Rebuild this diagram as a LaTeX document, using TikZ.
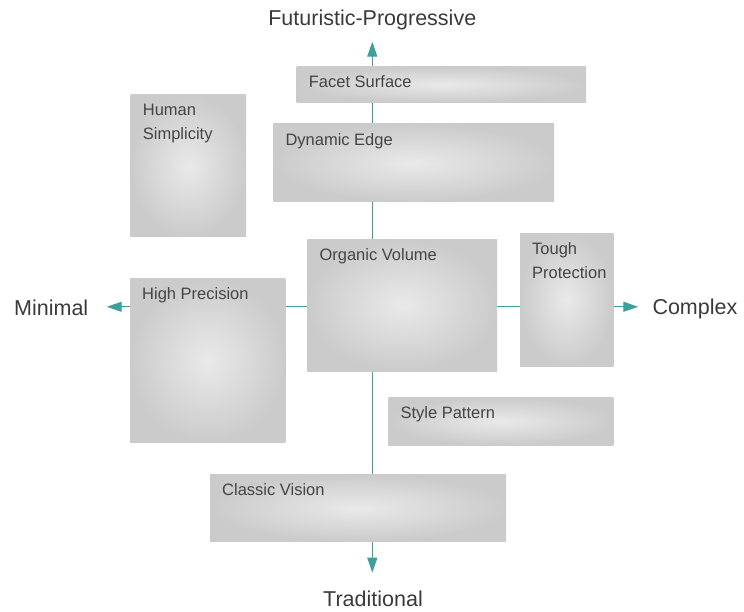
\documentclass[tikz,border=0pt]{standalone}
\usepackage{fontspec}
\setmainfont{Liberation Sans}
\usetikzlibrary{arrows.meta}

\definecolor{axisteal}{RGB}{62,160,155}
\definecolor{boxgray}{RGB}{203,203,203}
\definecolor{boxlight}{RGB}{233,233,233}
\definecolor{labelgray}{RGB}{68,68,68}
\definecolor{axisgray}{RGB}{58,58,58}

\tikzset{
    box/.style={shade, inner color=boxlight, outer color=boxgray,
        inner sep=0pt, outer sep=0pt},
    boxtext/.style={anchor=north west, inner sep=0pt, align=left,
        text=labelgray, font=\fontsize{16.5}{24}\selectfont},
    axis/.style={draw=axisteal, line width=1.3pt,
        -{Triangle[length=15pt, width=10pt]}},
    axislabel/.style={inner sep=0pt, text=axisgray,
        font=\fontsize{21.5}{26}\selectfont}
}

\begin{document}
\begin{tikzpicture}[x=1pt, y=-1pt]
    \useasboundingbox (0, 0) rectangle (744, 612);

    % axes
    \coordinate (o) at (372.3, 306.8);
    \coordinate (up) at (372.3, 41.7);
    \coordinate (down) at (372.3, 572.7);
    \coordinate (left) at (106.7, 306.8);
    \coordinate (right) at (638.3, 306.8);

    \draw[axis] (o) -- (up);
    \draw[axis] (o) -- (down);
    \draw[axis] (o) -- (left);
    \draw[axis] (o) -- (right);

    \node[axislabel, anchor=base] (futuristic) at (372.3, 26) {Futuristic-Progressive};
    \node[axislabel, anchor=base] (traditional) at (373, 606) {Traditional};
    \node[axislabel, anchor=base west] (minimal) at (14, 315.7) {Minimal};
    \node[axislabel, anchor=base west] (complex) at (652.3, 314.5) {Complex};

    % boxes
    \foreach \name/\xa/\ya/\xb/\yb/\txt in {
        facet/296.7/66.7/586/102.3/{Facet Surface},
        human/130.7/95/246/236.7/{Human\\Simplicity},
        dynamic/273.3/124/554/202/{Dynamic Edge},
        organic/307.3/239.3/497/371/{Organic Volume},
        tough/520/233.3/613.3/366/{Tough\\Protection},
        precision/130/278.3/285.3/442.7/{High Precision},
        pattern/388.3/397.3/613.3/445/{Style Pattern},
        classic/210/474.3/506/541.7/{Classic Vision}} {

        \pgfmathsetmacro\w{\xb - \xa}
        \pgfmathsetmacro\h{\yb - \ya}
        \node[box, minimum width=\w pt, minimum height=\h pt] (\name)
            at ({(\xa + \xb) / 2}, {(\ya + \yb) / 2}) {};
        \node[boxtext] (\name-text) at ([shift={(12, 9)}]\name.north west)
            {\txt};
    }
\end{tikzpicture}
\end{document}
